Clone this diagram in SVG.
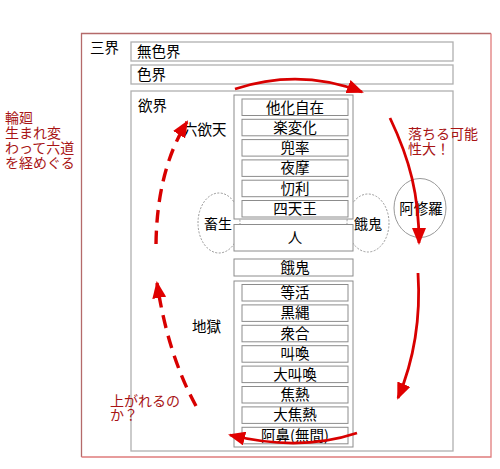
<svg xmlns="http://www.w3.org/2000/svg" width="500" height="469" viewBox="0 0 500 469">
<style>
text{font-family:"Noto Sans CJK JP","Noto Sans",sans-serif;}
.lb{font-size:14.5px;fill:#000;}
.c{text-anchor:middle;}
.rt{font-size:14px;fill:#a81414;}
.bx{fill:#fff;stroke:#8c8c8c;stroke-width:1;}
.ob{fill:#fff;stroke:#b0b0b0;stroke-width:1.3;}
.arr{fill:none;stroke:#d80000;stroke-width:2.8;}
.dash{fill:none;stroke:#d80000;stroke-width:3.4;stroke-dasharray:13 8;}
.dot{fill:none;stroke:#999;stroke-width:1;stroke-dasharray:2 1.5;}
</style>
<defs>
<marker id="ah" markerUnits="userSpaceOnUse" markerWidth="18" markerHeight="14" refX="15" refY="7" orient="auto" viewBox="0 0 18 14">
<path d="M0,0 L17,7 L0,14 z" fill="#e00000"/>
</marker>
</defs>
<rect width="500" height="469" fill="#fff"/>

<g id="frame">
<path d="M81.5,457 V33.5 H491" fill="none" stroke="#b46a6a" stroke-width="1.3"/>
<path d="M491,33.5 V457 H81.5" fill="none" stroke="#e07c7c" stroke-width="1.3"/>
<text class="lb" x="90" y="53">三界</text>
</g>

<g id="mushikikai">
<rect class="ob" x="131" y="42" width="322" height="19"/>
<text class="lb" x="137" y="57">無色界</text>
</g>
<g id="shikikai">
<rect class="ob" x="131" y="65" width="322" height="19"/>
<text class="lb" x="137" y="80">色界</text>
</g>
<g id="yokukai">
<rect class="ob" x="131" y="91" width="322" height="360"/>
<text class="lb" x="138" y="111">欲界</text>
</g>

<g id="chikusho">
<ellipse class="dot" cx="219" cy="223" rx="21" ry="30"/>
<text class="lb" x="218" y="229" style="font-size:14px" text-anchor="middle">畜生</text>
</g>
<g id="gaki-side">
<ellipse class="dot" cx="368" cy="223" rx="21" ry="29"/>
<text class="lb" x="368" y="229" style="font-size:14px" text-anchor="middle">餓鬼</text>
</g>
<g id="ashura">
<ellipse fill="none" stroke="#999" stroke-width="1" cx="420" cy="208" rx="26" ry="29.5"/>
<text class="lb c" x="421" y="214">阿修羅</text>
</g>

<g id="rokuyokuten">
<text class="lb" x="183" y="135">六欲天</text>
<rect class="bx" x="234" y="95" width="119" height="124"/>
<rect class="bx" x="242" y="99" width="106" height="16.5"/>
<text class="lb c" x="295" y="112.5">他化自在</text>
<rect class="bx" x="242" y="119.3" width="106" height="16.5"/>
<text class="lb c" x="295" y="132.8">楽変化</text>
<rect class="bx" x="242" y="139.6" width="106" height="16.5"/>
<text class="lb c" x="295" y="153.1">兜率</text>
<rect class="bx" x="242" y="159.9" width="106" height="16.5"/>
<text class="lb c" x="295" y="173.4">夜摩</text>
<rect class="bx" x="242" y="180.2" width="106" height="16.5"/>
<text class="lb c" x="295" y="193.7">忉利</text>
<rect class="bx" x="242" y="200.5" width="106" height="16.5"/>
<text class="lb c" x="295" y="214">四天王</text>
</g>

<g id="hito">
<rect class="bx" x="234" y="224.5" width="119" height="26.5"/>
<text class="lb c" x="295" y="243">人</text>
</g>

<g id="gaki">
<rect class="bx" x="234" y="259" width="119" height="17"/>
<text class="lb c" x="295" y="272.5">餓鬼</text>
</g>

<g id="jigoku">
<text class="lb" x="192" y="332">地獄</text>
<rect class="bx" x="234" y="281" width="119" height="166"/>
<rect class="bx" x="242" y="284.5" width="106" height="16.5"/>
<text class="lb c" x="295" y="298">等活</text>
<rect class="bx" x="242" y="304.9" width="106" height="16.5"/>
<text class="lb c" x="295" y="318.4">黒縄</text>
<rect class="bx" x="242" y="325.3" width="106" height="16.5"/>
<text class="lb c" x="295" y="338.8">衆合</text>
<rect class="bx" x="242" y="345.7" width="106" height="16.5"/>
<text class="lb c" x="295" y="359.2">叫喚</text>
<rect class="bx" x="242" y="366.1" width="106" height="16.5"/>
<text class="lb c" x="295" y="379.6">大叫喚</text>
<rect class="bx" x="242" y="386.5" width="106" height="16.5"/>
<text class="lb c" x="295" y="400">焦熱</text>
<rect class="bx" x="242" y="406.9" width="106" height="16.5"/>
<text class="lb c" x="295" y="420.4">大焦熱</text>
<rect class="bx" x="242" y="427.3" width="106" height="16.5"/>
<text class="lb c" x="295" y="440.8">阿鼻(無間)</text>
</g>

<g id="notes">
<text class="rt" x="5" y="123"><tspan x="5" y="123">輪廻</tspan><tspan x="5" y="138">生まれ変</tspan><tspan x="5" y="153">わって六道</tspan><tspan x="5" y="168">を経めぐる</tspan></text>
<text class="rt" x="408" y="139"><tspan x="408" y="139">落ちる可能</tspan><tspan x="408" y="154">性大！</tspan></text>
<text class="rt" x="110" y="406"><tspan x="110" y="406">上がれるの</tspan><tspan x="110" y="420">か？</tspan></text>
</g>

<g id="connectors">
<path class="arr" d="M235,89 Q300,68 362,92" marker-end="url(#ah)"/>
<path class="arr" d="M390,118 C410,160 419,195 419,243" marker-end="url(#ah)"/>
<path class="arr" d="M418,273 C421,320 414,360 398,398" marker-end="url(#ah)"/>
<path class="arr" d="M357,433 Q300,452 230,435" marker-end="url(#ah)"/>
<path class="dash" d="M196,406 Q168,355 157,283" marker-end="url(#ah)"/>
<path class="dash" d="M156,244 Q157,170 187,122" marker-end="url(#ah)"/>
</g>
</svg>
